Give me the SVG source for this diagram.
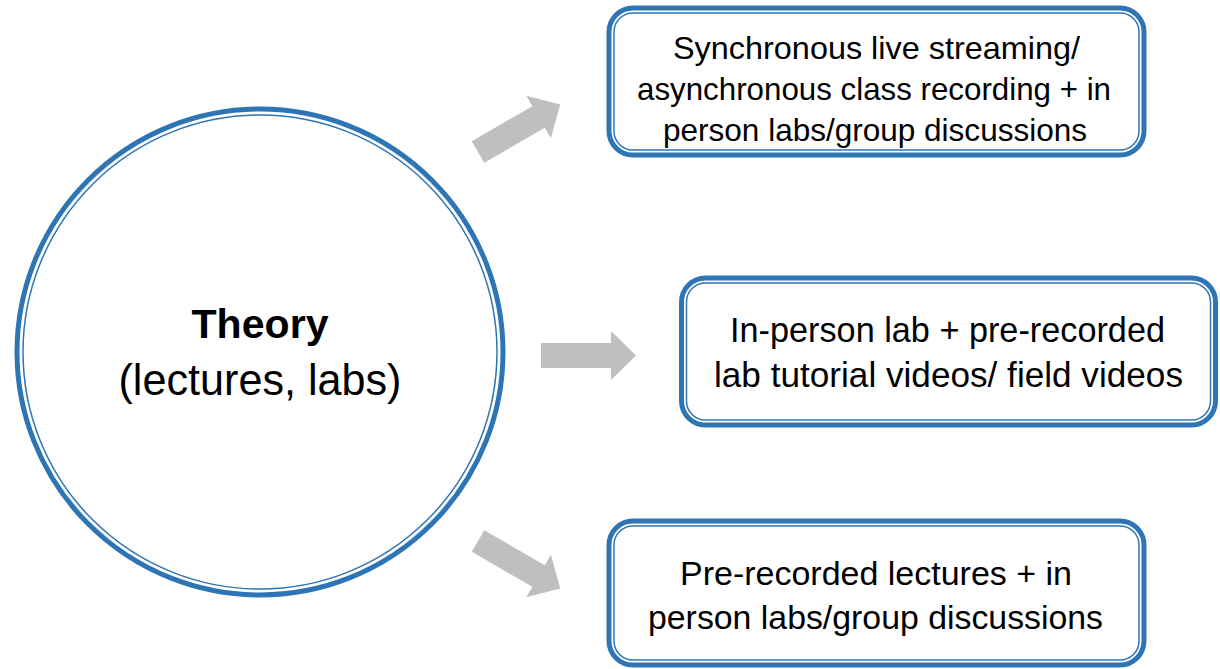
<svg xmlns="http://www.w3.org/2000/svg" width="1220" height="669" viewBox="0 0 1220 669">
<defs>
<style>
.outer{fill:#fff;stroke:#2E75B6;stroke-width:5}
.inner{fill:none;stroke:#2E75B6;stroke-width:1.5}
.arrow{fill:#BFBFBF;stroke:none}
.t{font-family:"Liberation Sans",Arial,sans-serif;fill:#000;text-anchor:middle}
.b1{font-size:32px}
.b2{font-size:34.5px}
.b3{font-size:34px}
</style>
<path id="arr" d="M0,-12.5 L70,-12.5 L70,-24.5 L95,0 L70,24.5 L70,12.5 L0,12.5 Z"/>
</defs>
<rect width="1220" height="669" fill="#fff"/>
<g id="theory">
<circle class="outer" cx="260" cy="352" r="243"/>
<circle class="inner" cx="260" cy="352" r="237"/>
<text class="t" x="260" y="338" font-size="41" font-weight="bold" textLength="137" lengthAdjust="spacingAndGlyphs">Theory</text>
<text class="t" x="260" y="395" font-size="43.5" textLength="283" lengthAdjust="spacingAndGlyphs">(lectures, labs)</text>
</g>
<g id="connectors">
<use href="#arr" class="arrow" transform="translate(478,152) rotate(-30)"/>
<use href="#arr" class="arrow" transform="translate(541,355.5)"/>
<use href="#arr" class="arrow" transform="translate(478,541) rotate(30)"/>
</g>
<g id="box1">
<rect class="outer" x="609" y="8" width="535" height="147" rx="24"/>
<rect class="inner" x="614" y="13" width="525" height="137" rx="19"/>
<text class="t b1" x="876.5" y="59" textLength="407" lengthAdjust="spacingAndGlyphs">Synchronous live streaming/</text>
<text class="t b1" x="874" y="100" textLength="474" lengthAdjust="spacingAndGlyphs">asynchronous class recording + in</text>
<text class="t b1" x="875" y="141" textLength="424" lengthAdjust="spacingAndGlyphs">person labs/group discussions</text>
</g>
<g id="box2">
<rect class="outer" x="681.5" y="278" width="534" height="147" rx="24"/>
<rect class="inner" x="686.5" y="283" width="524" height="137" rx="19"/>
<text class="t b2" x="947.5" y="342" textLength="435" lengthAdjust="spacingAndGlyphs">In-person lab + pre-recorded</text>
<text class="t b2" x="948.5" y="387" textLength="469" lengthAdjust="spacingAndGlyphs">lab tutorial videos/ field videos</text>
</g>
<g id="box3">
<rect class="outer" x="609" y="521" width="535" height="144" rx="24"/>
<rect class="inner" x="614" y="526" width="525" height="134" rx="19"/>
<text class="t b3" x="876" y="585" textLength="392" lengthAdjust="spacingAndGlyphs">Pre-recorded lectures + in</text>
<text class="t b3" x="875.5" y="629" textLength="455" lengthAdjust="spacingAndGlyphs">person labs/group discussions</text>
</g>
</svg>
